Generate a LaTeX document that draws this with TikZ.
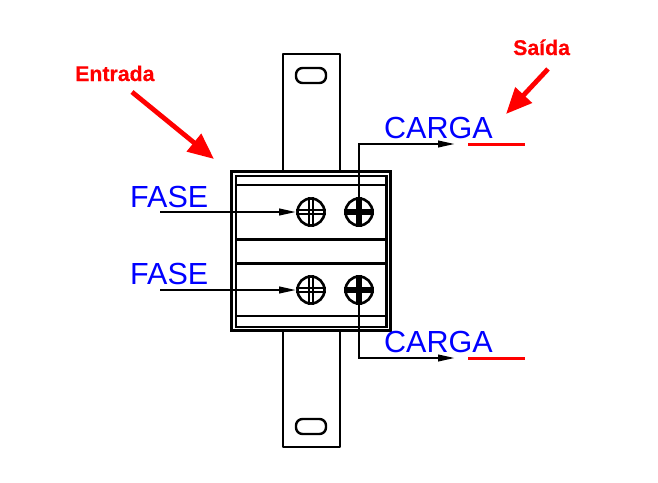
\documentclass[tikz,border=0pt]{standalone}
\usepackage{fontspec}
\setmainfont{Liberation Sans}
\newfontfamily\calloutfont[FakeBold=0.5]{Liberation Sans Bold}
\usetikzlibrary{arrows.meta}
\definecolor{labelblue}{RGB}{0,0,255}
\definecolor{markred}{RGB}{255,0,0}
\tikzset{
  x=1pt,y=-1pt,
  part/.style={draw=black,line width=2.4pt,line join=round},
  thin part/.style={draw=black,line width=2.5pt},
  screwhead/.style={circle,draw=black,line width=2.6pt,minimum size=27pt,inner sep=0pt},
  slotpart/.style={draw=black,line width=2.4pt,rounded corners=6.5pt},
  lead/.style={draw=black,line width=2.3pt,-{Triangle[length=17pt,width=6.5pt]}},
  callout/.style={draw=markred,line width=4.8pt,-{Triangle[length=26pt,width=22pt]}},
  bar/.style={draw=markred,line width=3pt},
  wirelabel/.style={text=labelblue,font=\fontsize{30.5}{31}\selectfont,inner sep=0pt,anchor=base west},
  calllabel/.style={text=markred,font=\fontsize{21.3}{22}\calloutfont,inner sep=0pt,anchor=base west},
}
\newcommand{\screwcross}[3]{% node, half gap, line width
  \draw[line width=#3,black] ([xshift=-#2]#1.north) -- ([xshift=-#2]#1.south);
  \draw[line width=#3,black] ([xshift=#2]#1.north) -- ([xshift=#2]#1.south);
  \draw[line width=#3,black] ([yshift=-#2]#1.west) -- ([yshift=-#2]#1.east);
  \draw[line width=#3,black] ([yshift=#2]#1.west) -- ([yshift=#2]#1.east);
}
\begin{document}
\begin{tikzpicture}
\useasboundingbox (0,0) rectangle (658,482);
% strap
\draw[part] (283,171) -- (283,54) -- (340,54) -- (340,171);
\draw[part] (283,331) -- (283,447) -- (340,447) -- (340,331);
\draw[slotpart] (296,68) rectangle (326,83);
\draw[slotpart] (296,419) rectangle (326,434);
% body
\draw[draw=black,line width=3pt] (231.5,171.5) rectangle (390.5,330.5);
\draw[thin part] (236,176) rectangle (386.5,327);
\draw[thin part] (236,185) -- (386.5,185);
\draw[thin part] (236,239.3) -- (386.5,239.3);
\draw[thin part] (236,263.3) -- (386.5,263.3);
\draw[draw=black,line width=2pt] (236,316) -- (386.5,316);
% screws
\node[screwhead] (s1) at (311,212) {};
\node[screwhead] (s2) at (359,212) {};
\node[screwhead] (s3) at (311,290) {};
\node[screwhead] (s4) at (359,290) {};
\screwcross{s1}{1.9pt}{2pt}
\screwcross{s3}{1.9pt}{2pt}
\screwcross{s2}{1.6pt}{2.8pt}
\screwcross{s4}{1.6pt}{2.8pt}
% free ends of connectors
\coordinate (f1) at (160,212);
\coordinate (f2) at (160,290);
\coordinate (c1) at (455,144);
\coordinate (c2) at (455,358);
\coordinate (r1a) at (468,144);
\coordinate (r1b) at (525,144);
\coordinate (r2a) at (468,358);
\coordinate (r2b) at (525,358);
\coordinate (ea) at (132,92);
\coordinate (eb) at (214,159);
\coordinate (sa) at (548,69);
\coordinate (sb) at (506,114);
% leads
\draw[lead] (f1) -- (s1.west);
\draw[lead] (f2) -- (s3.west);
\draw[lead] (s2.center) |- (c1);
\draw[lead] (s4.center) |- (c2);
\draw[bar] (r1a) -- (r1b);
\draw[bar] (r2a) -- (r2b);
\draw[callout] (ea) -- (eb);
\draw[callout] (sa) -- (sb);
% labels
\node[wirelabel] (fase1) at (130,207) {FASE};
\node[wirelabel] (fase2) at (130,284) {FASE};
\node[wirelabel] (carga1) at (384,138) {CARGA};
\node[wirelabel] (carga2) at (384,352) {CARGA};
\node[calllabel] (entrada) at (75,81) {Entrada};
\node[calllabel] (saida) at (513,55) {Saída};
\end{tikzpicture}
\end{document}
